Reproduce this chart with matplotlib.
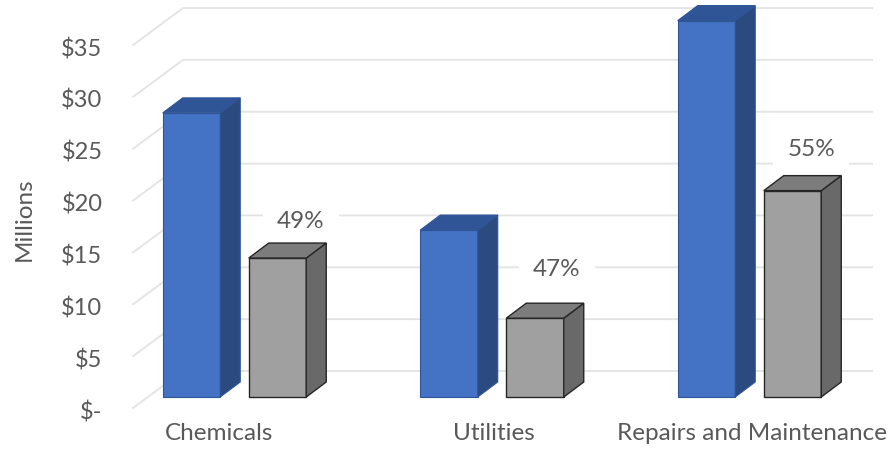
import matplotlib
matplotlib.use('Agg')
import matplotlib.pyplot as plt
from matplotlib.patches import Polygon
from matplotlib.transforms import ScaledTranslation

plt.rcParams['font.family'] = ['Lato', 'DejaVu Sans']

categories = ['Chemicals', 'Utilities', 'Repairs and Maintenance']
total_values = [27.4, 16.1, 36.3]
part_values = [13.4, 7.6, 19.9]
pct_labels = ['49%', '47%', '55%']
pct_x = [0.258, 1.252, 2.239]
pct_y = [16.9, 12.3, 23.85]
cat_label_x = [-0.06, 1.008, 2.01]
grid_values = [0, 5, 10, 15, 20, 25, 30, 35]
grid_labels = ['$-', '$5', '$10', '$15', '$20', '$25', '$30', '$35']

# pixel scale of the picture, one category = 257.5 px, $1M = 10.37 px
px_x = 1 / 257.5
px_y = 1 / 10.37
bar_w = 57.5 * px_x
bar_off = 43 * px_x
dx = 20 * px_x
dy = 15 * px_y
floor_front = -11 * px_y
floor_back = 26 * px_y
grid_left = -0.394
grid_mid = -0.2
grid_right = 2.476
text_col = '#595959'
grid_col = '#E3E3E3'


def draw_bar(ax, x, val, front, side, top, edge, lw):
    ax.bar(x, val, bar_w, color=front, edgecolor=edge, linewidth=lw, zorder=3)
    l = x - bar_w / 2
    r = x + bar_w / 2
    ax.add_patch(Polygon([(r, 0), (r + dx, dy), (r + dx, val + dy), (r, val)],
                         facecolor=side, edgecolor=edge, linewidth=lw, zorder=3))
    ax.add_patch(Polygon([(l, val), (l + dx, val + dy), (r + dx, val + dy), (r, val)],
                         facecolor=top, edgecolor=edge, linewidth=lw, zorder=3))


fig = plt.figure(figsize=(8.92, 4.51), dpi=100)
ax = fig.add_axes([133 / 892, 43 / 451, 759 / 892, 408 / 451])
ax.set_xlim((133 - 234.5) * px_x, (892 - 234.5) * px_x)
ax.set_ylim(floor_front, 397 * px_y)

for v in grid_values:
    ax.plot([grid_left, grid_mid, grid_right],
            [v + floor_front, v + floor_back, v + floor_back],
            color=grid_col, linewidth=1.3, zorder=1, clip_on=False)

for i in range(len(categories)):
    draw_bar(ax, i - bar_off, total_values[i], '#4472C4', '#2A4A80', '#2F5597', '#2F5597', 0.8)
    draw_bar(ax, i + bar_off, part_values[i], '#A0A0A0', '#696969', '#7C7C7C', '#262626', 1.0)
    ax.text(pct_x[i], pct_y[i], pct_labels[i], ha='center', va='center', fontsize=17.5,
            color=text_col, zorder=2,
            bbox=dict(facecolor='white', edgecolor='none', pad=10))

ax.set_xticks(cat_label_x)
ax.set_xticklabels(categories)
ax.set_yticks([v + floor_front for v in grid_values])
ax.set_yticklabels(grid_labels)
ax.tick_params(axis='x', length=0, pad=11, labelsize=17.5, labelcolor=text_col)
ax.tick_params(axis='y', length=0, pad=22, labelsize=17, labelcolor=text_col)
# y labels sit a little below their grid line ends
for lab in ax.get_yticklabels():
    lab.set_transform(lab.get_transform() + ScaledTranslation(0, -2 / 100, fig.dpi_scale_trans))
for s in ax.spines.values():
    s.set_visible(False)

fig.text(24 / 892, 1 - 219 / 451, 'Millions', rotation=90, ha='center', va='center',
         fontsize=17.5, color=text_col)

fig.savefig('out.png', dpi=100)
